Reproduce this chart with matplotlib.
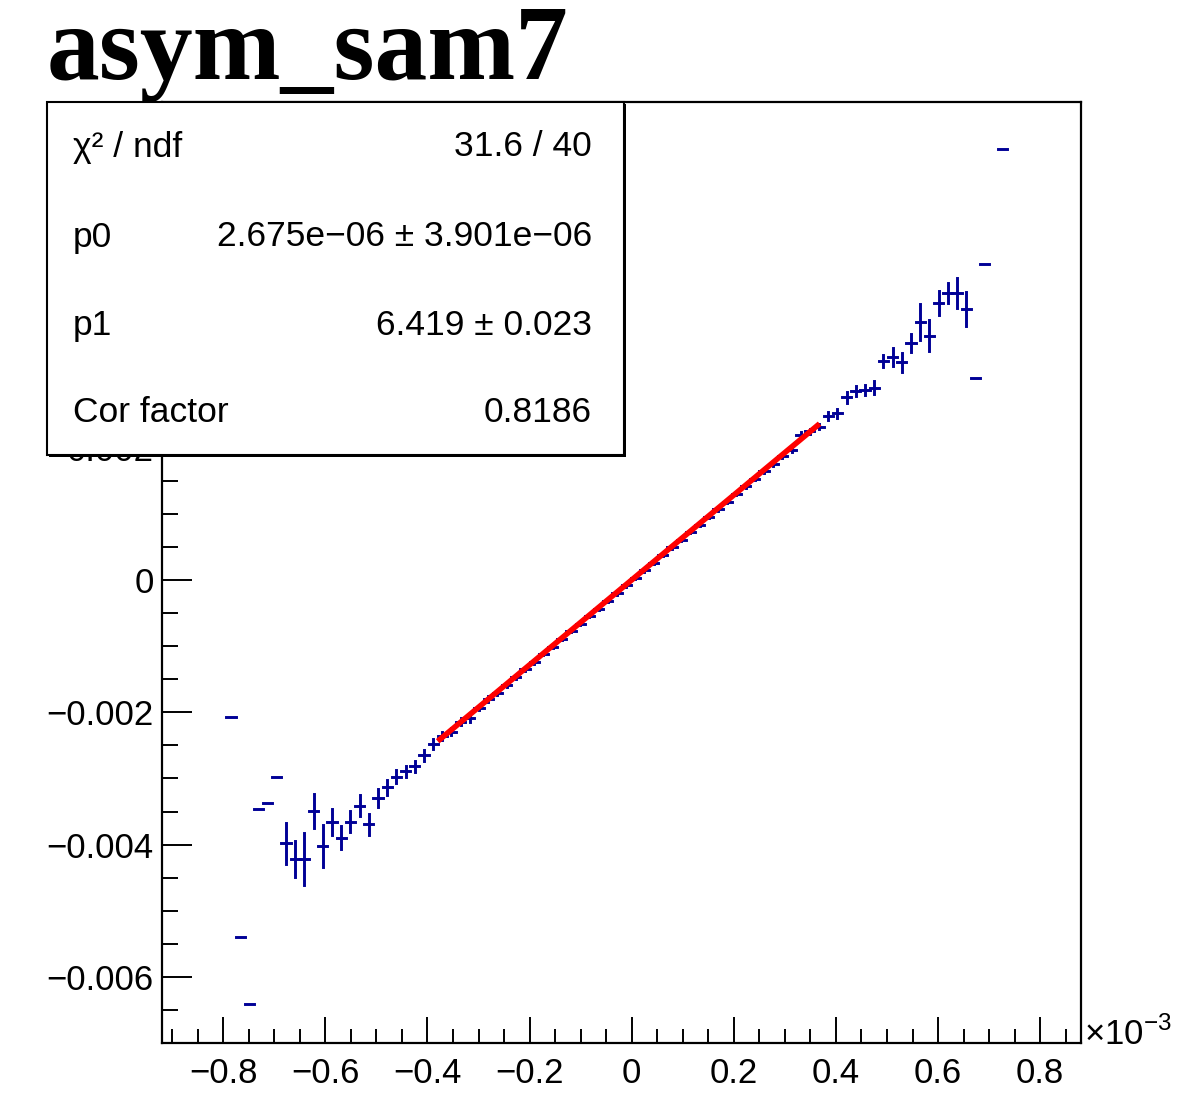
import matplotlib
matplotlib.use('Agg')
import matplotlib.pyplot as plt
import numpy as np
from matplotlib.ticker import FixedLocator, FuncFormatter
from matplotlib.patches import Rectangle

plt.rcParams['font.family'] = ['Liberation Sans', 'DejaVu Sans']
plt.rcParams['mathtext.fontset'] = 'custom'
plt.rcParams['mathtext.rm'] = 'Liberation Sans'
plt.rcParams['axes.unicode_minus'] = True

# ---------------- data (x in units of 1e-3) ----------------
x_centers = [
    -0.785, -0.767, -0.749, -0.731, -0.713, -0.695, -0.677, -0.659, -0.641, -0.623,
    -0.605, -0.587, -0.569, -0.551, -0.533, -0.515, -0.497, -0.479, -0.461, -0.443,
    -0.425, -0.407, -0.389, -0.371, -0.353, -0.335, -0.317, -0.299, -0.281, -0.263,
    -0.245, -0.227, -0.209, -0.191, -0.173, -0.155, -0.137, -0.119, -0.101, -0.083,
    -0.065, -0.047, -0.029, -0.011, 0.007, 0.025, 0.043, 0.061, 0.079, 0.097,
    0.115, 0.133, 0.151, 0.169, 0.187, 0.205, 0.223, 0.241, 0.259, 0.277,
    0.295, 0.313, 0.331, 0.349, 0.367, 0.385, 0.403, 0.421, 0.439, 0.457,
    0.475, 0.493, 0.511, 0.529, 0.547, 0.565, 0.583, 0.601, 0.619, 0.637,
    0.655, 0.673, 0.691, 0.727,
]
y_means = [
    -0.002076, -0.005394, -0.006409, -0.003455, -0.003374, -0.002970, -0.003980, -0.004217, -0.004217, -0.003489,
    -0.004020, -0.003652, -0.003894, -0.003652, -0.003409, -0.003692, -0.003288, -0.003136, -0.002970, -0.002894,
    -0.002818, -0.002652, -0.002480, -0.002364, -0.002290, -0.002140, -0.002090, -0.001930, -0.001800, -0.001700,
    -0.001580, -0.001470, -0.001350, -0.001240, -0.001120, -0.001010, -0.000885, -0.000770, -0.000660, -0.000540,
    -0.000430, -0.000310, -0.000200, -0.000080, 0.000030, 0.000150, 0.000265, 0.000380, 0.000495, 0.000610,
    0.000725, 0.000840, 0.000955, 0.001070, 0.001185, 0.001300, 0.001420, 0.001530, 0.001650, 0.001760,
    0.001880, 0.001960, 0.002200, 0.002250, 0.002318, 0.002485, 0.002520, 0.002762, 0.002864, 0.002874,
    0.002909, 0.003311, 0.003368, 0.003292, 0.003580, 0.003898, 0.003697, 0.004186, 0.004344, 0.004344,
    0.004102, 0.003050, 0.004783, 0.006526,
]
y_errors = [
    0.0, 0.0, 0.0, 0.0, 0.0, 0.0, 0.000314, 0.000277, 0.000398, 0.000258,
    0.000318, 0.000197, 0.000177, 0.000156, 0.000156, 0.000156, 0.000136, 0.000120, 0.000100, 0.000080,
    0.000080, 0.000090, 0.000075, 0.000060, 0.000050, 0.000050, 0.000050, 0.000040, 0.000040, 0.000030,
    0.000030, 0.000030, 0.000030, 0.000030, 0.000020, 0.000020, 0.000020, 0.000020, 0.000020, 0.000020,
    0.000020, 0.000020, 0.000020, 0.000020, 0.000020, 0.000020, 0.000020, 0.000020, 0.000020, 0.000020,
    0.000020, 0.000020, 0.000020, 0.000020, 0.000020, 0.000020, 0.000020, 0.000020, 0.000030, 0.000030,
    0.000030, 0.000030, 0.000040, 0.000040, 0.000040, 0.000060, 0.000075, 0.000090, 0.000075, 0.000075,
    0.000100, 0.000090, 0.000136, 0.000147, 0.000136, 0.000273, 0.000235, 0.000182, 0.000152, 0.000227,
    0.000253, 0.0, 0.0, 0.0,
]
bin_half_width = 0.009

fit_p0 = 2.675e-06
fit_p1 = 6.419
fit_range = [-0.38, 0.368]

stats_labels = ["\u03c7\u00b2 / ndf", "p0", "p1", "Cor factor"]
stats_values = ["31.6 / 40", "2.675e\u221206 \u00b1 3.901e\u221206", "6.419 \u00b1 0.023", "0.8186"]

x_ticks = [-0.8, -0.6, -0.4, -0.2, 0.0, 0.2, 0.4, 0.6, 0.8]
y_ticks = [-0.006, -0.004, -0.002, 0.0, 0.002]

title = "asym_sam7"

# ---------------- figure ----------------
W, H = 1198, 1112
fig = plt.figure(figsize=(W / 100, H / 100), dpi=100)
ax = fig.add_axes([162 / W, 1 - 1043 / H, (1081 - 162) / W, (1043 - 102) / H])

eb = ax.errorbar(x_centers, y_means, xerr=bin_half_width, yerr=y_errors, fmt='none',
                 ecolor='#000096', elinewidth=2.1, capsize=0, zorder=2)
for lc in eb[2]:
    lc.set_capstyle('projecting')

xf = np.linspace(fit_range[0], fit_range[1], 300)
ax.plot(xf, fit_p0 + fit_p1 * xf * 1e-3, color='#ff0000', lw=4.0, zorder=3,
        solid_capstyle='butt')

ax.set_xlim(-0.92, 0.88)
ax.set_ylim(-0.007, 0.00723)

def fmt_x(v, pos):
    if abs(v) < 1e-9:
        return "0"
    return f"{v:.1f}".replace("-", "\u2212")

def fmt_y(v, pos):
    if abs(v) < 1e-12:
        return "0"
    return f"{v:.3f}".replace("-", "\u2212")

ax.xaxis.set_major_locator(FixedLocator(x_ticks))
ax.xaxis.set_minor_locator(FixedLocator(np.arange(-0.90, 0.88, 0.05)))
ax.yaxis.set_major_locator(FixedLocator(y_ticks))
ax.yaxis.set_minor_locator(FixedLocator(np.arange(-0.0070, 0.0072, 0.0005)))
ax.xaxis.set_major_formatter(FuncFormatter(fmt_x))
ax.yaxis.set_major_formatter(FuncFormatter(fmt_y))

ax.tick_params(axis='x', which='major', direction='in', length=19, width=1.4,
               labelsize=25, pad=10, top=False)
ax.tick_params(axis='x', which='minor', direction='in', length=10, width=1.4, top=False)
ax.tick_params(axis='y', which='major', direction='in', length=21.5, width=1.4,
               labelsize=25, pad=6, right=False)
ax.tick_params(axis='y', which='minor', direction='in', length=11.5, width=1.4, right=False)
for s in ax.spines.values():
    s.set_linewidth(1.6)

# x10^-3 multiplier
fig.text(1084 / W, 1 - 1045 / H, r"$\times10^{-3}$", fontsize=25, ha='left', va='baseline')

# title
fig.text(47 / W, 1 - 79 / H, title, fontsize=76, fontweight='bold',
         family=['Liberation Serif', 'DejaVu Serif'], ha='left', va='baseline')

# stats box
bx0, bx1, by0, by1 = 47, 624, 102, 455
shadow = Rectangle(((bx0 + 2) / W, 1 - (by1 + 2) / H), (bx1 - bx0) / W, (by1 - by0) / H,
                   transform=fig.transFigure, facecolor='black', edgecolor='black', lw=0, zorder=9)
fig.add_artist(shadow)
box = Rectangle((bx0 / W, 1 - by1 / H), (bx1 - bx0) / W, (by1 - by0) / H,
                transform=fig.transFigure, facecolor='white', edgecolor='black', lw=1.5, zorder=10)
fig.add_artist(box)
row_y = [147, 237, 325, 413]
for lab, val, ry in zip(stats_labels, stats_values, row_y):
    fig.text(73 / W, 1 - ry / H, lab, fontsize=25.5, ha='left', va='center', zorder=11)
    fig.text(592 / W, 1 - ry / H, val, fontsize=25.5, ha='right', va='center', zorder=11)

fig.savefig('out.png', dpi=100)
